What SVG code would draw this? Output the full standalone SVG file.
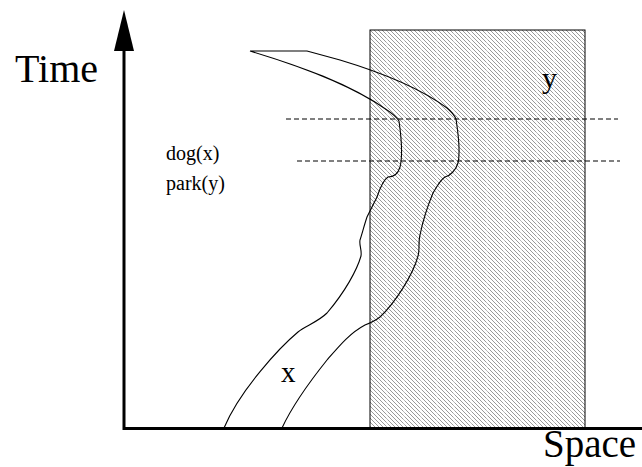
<svg xmlns="http://www.w3.org/2000/svg" width="642" height="467" viewBox="0 0 642 467">
<style>
.lbl{font-family:"Liberation Serif","Times New Roman",serif;fill:#000}
.curve{fill:none;stroke:#000;stroke-width:1.1}
.dash{stroke:#000;stroke-width:1;stroke-dasharray:5,3}
.axis{stroke:#000;stroke-width:3}
</style>
<defs>
<pattern id="hatch" patternUnits="userSpaceOnUse" width="4" height="4">
<rect width="4" height="4" fill="#fff"/>
<path d="M-1,-1 L5,5 M-1,3 L1,5 M3,-1 L5,1" stroke="#9a9a9a" stroke-width="1"/>
</pattern>
</defs>
<rect width="642" height="467" fill="#fff"/>
<g id="park">
<rect x="370" y="30" width="215" height="398" fill="url(#hatch)"/>
<g stroke="#fff" stroke-width="1" opacity="0.6">
<path d="M387,30V428M404,30V428M421,30V428M437,30V428M454,30V428M471,30V428M487,30V428M504,30V428M521,30V428M537,30V428M554,30V428M571,30V428"/>
</g>
<rect x="370" y="30" width="215" height="398" fill="none" stroke="#000" stroke-width="1"/>
<text class="lbl" x="542" y="88" font-size="30">y</text>
</g>
<g id="dog">
<path class="curve" d="M307,51 L250,51 C300,66 350,84 387,110 Q396,116 399,121 C401,135 403,155 400,167 C398,174 393,177 388,177 C383,180 380,188 377,197 L367,217 C364,226 362,234 360,240 C359,245 362,250 361,256 C357,270 345,292 327,313 C318,322 305,326 298,332 C280,347 240,390 224,428"/>
<path class="curve" d="M307,51 L340,60 C380,72 420,88 447,108 Q454,114 456,119 C458,133 461,150 458,163 C456,170 450,176 445,177 C441,179 437,186 433,193 C428,205 423,220 420,235 C418,243 420,250 418,256 C413,275 395,303 380,317 C375,321 370,323 365,325 C350,333 340,345 327,360 C315,375 295,400 282,428"/>
<text class="lbl" x="281" y="382" font-size="29">x</text>
</g>
<g id="connectors">
<line class="dash" x1="286" y1="119" x2="618" y2="119"/>
<line class="dash" x1="297" y1="161" x2="620" y2="161"/>
</g>
<g id="axes">
<line class="axis" x1="124" y1="48" x2="124" y2="430"/>
<polygon points="124,10 114,51 134,51" fill="#000"/>
<line class="axis" x1="123" y1="428.5" x2="642" y2="428.5"/>
<text class="lbl" x="15" y="82" font-size="40">Time</text>
<text class="lbl" x="543" y="457" font-size="39">Space</text>
</g>
<g id="legend">
<text class="lbl" x="166" y="160" font-size="20">dog(x)</text>
<text class="lbl" x="166" y="190" font-size="20">park(y)</text>
</g>
</svg>
